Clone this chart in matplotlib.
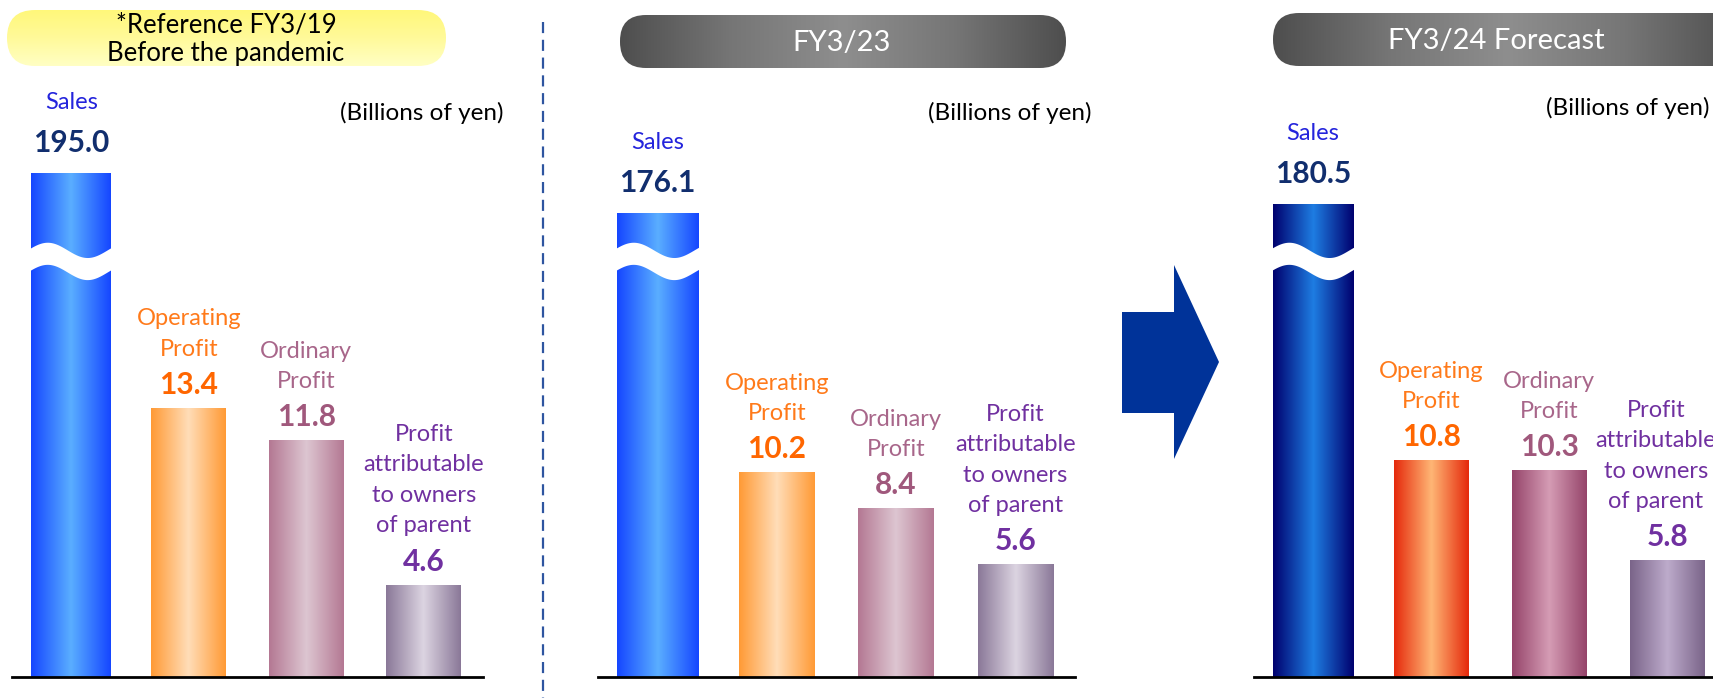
import numpy as np
import matplotlib
matplotlib.use("Agg")
import matplotlib.pyplot as plt
from matplotlib.colors import LinearSegmentedColormap
from matplotlib.patches import FancyBboxPatch, Polygon

plt.rcParams['font.family'] = ['Lato', 'DejaVu Sans']

# ---- data ----
items = ["Sales", "Operating\nProfit", "Ordinary\nProfit",
         "Profit\nattributable\nto owners\nof parent"]
fy19 = [195.0, 13.4, 11.8, 4.6]
fy23 = [176.1, 10.2, 8.4, 5.6]
fy24 = [180.5, 10.8, 10.3, 5.8]
panel_titles = ["*Reference FY3/19\nBefore the pandemic", "FY3/23", "FY3/24 Forecast"]
unit_label = "(Billions of yen)"

name_colors = ['#2424DC', '#FF7A1A', '#A8668A', '#7030A0']
value_colors = ['#112E6E', '#FF6600', '#A0587C', '#7030A0']

# (edge, centre) colour of each bar's horizontal shading
grads_actual = [('#1546FF', '#5AAEFF'), ('#FF9A35', '#FFDDB8'),
                ('#B47893', '#DDC6D1'), ('#8A7898', '#DCD4E1')]
grads_forecast = [('#00006E', '#1E7DE2'), ('#E5290B', '#FFB675'),
                  ('#95446A', '#D59CB4'), ('#7A6489', '#BDABCB')]

W, H, DPI = 1713, 698, 100
BASE_PX = 677        # pixel row of the baseline
PX_PER_UNIT = 20.1   # vertical scale of the profit bars


def shown(v):
    # sales is drawn on a squashed scale above the wave break
    return v if v < 50 else 22.45 + (v - 170) * 0.105


fig = plt.figure(figsize=(W / DPI, H / DPI), dpi=DPI)

# decoration layer in pixel coordinates
deco = fig.add_axes([0, 0, 1, 1])
deco.set_xlim(0, W)
deco.set_ylim(H, 0)
deco.axis('off')


def gradient_box(x, y, w, h, colors, vertical=False, rounding=26):
    box = FancyBboxPatch((x, y), w, h, boxstyle=f"round,pad=0,rounding_size={rounding}",
                         facecolor='none', edgecolor='none')
    deco.add_patch(box)
    cmap = LinearSegmentedColormap.from_list('', colors)
    g = np.linspace(0, 1, 256)
    g = g.reshape(-1, 1) if vertical else g.reshape(1, -1)
    im = deco.imshow(g, cmap=cmap, extent=[x, x + w, y + h, y], aspect='auto', zorder=1)
    im.set_clip_path(box)


gradient_box(7, 10, 439, 56, ['#FFF77A', '#FFFA9A', '#FFFFC4'], vertical=True, rounding=28)
deco.text(226, 39, panel_titles[0], ha='center', va='center', fontsize=18.5,
          linespacing=1.2, color='black', zorder=2)

gray = ['#4E4E4E', '#767676', '#8E8E8E', '#767676', '#4E4E4E']
gradient_box(620, 15, 446, 53, gray)
deco.text(842, 43, panel_titles[1], ha='center', va='center', fontsize=21, color='white', zorder=2)
gradient_box(1273, 13, 470, 53, gray)
deco.text(1496, 41, panel_titles[2], ha='center', va='center', fontsize=21, color='white', zorder=2)

for xr, yc in [(504, 113), (1091, 113), (1710, 108)]:
    deco.text(xr, yc, unit_label, ha='right', va='center', fontsize=17.5, color='black')

deco.plot([543, 543], [22, 698], color='#2E55A0', lw=1.6, dashes=(5, 3))
deco.add_patch(Polygon([(1122, 312), (1174, 312), (1174, 265), (1219, 362),
                        (1174, 459), (1174, 413), (1122, 413)],
                       closed=True, facecolor='#003399', edgecolor='none'))


def add_panel(left_px, unit_px, values, grads, last_shift=0):
    ax = fig.add_axes([left_px / W, (H - BASE_PX) / H, 4 * unit_px / W, BASE_PX / H])
    ax.set_facecolor('none')
    widths = [0.68, 0.635, 0.635, 0.635]
    heights = [shown(v) for v in values]
    bars = ax.bar(range(4), heights, width=widths, color='none', edgecolor='none')
    for rect, (edge, mid) in zip(bars, grads):
        cmap = LinearSegmentedColormap.from_list('', [edge, mid, edge])
        x0 = rect.get_x()
        im = ax.imshow(np.linspace(0, 1, 256).reshape(1, -1), cmap=cmap,
                       extent=[x0, x0 + rect.get_width(), 0, rect.get_height()],
                       aspect='auto', zorder=2)
        im.set_clip_path(rect)

    # wave break across the sales bar
    r = bars[0]
    xs = np.linspace(r.get_x() - 0.02, r.get_x() + r.get_width() + 0.02, 120)
    t = (xs - r.get_x()) / r.get_width()
    mid = 20.7 + 0.38 * np.sin(2 * np.pi * t + 0.1 * np.pi)
    ax.fill_between(xs, mid - 0.55, mid + 0.55, color='white', zorder=3, lw=0)

    for i, (name, v, h) in enumerate(zip(items, values, heights)):
        val_off = 30 if i == 0 else 23
        ax.annotate(f"{v:.1f}", xy=(i, h), xytext=(0, val_off * 0.72),
                    textcoords='offset points', ha='center', va='center',
                    fontsize=21.5, fontweight='bold', color=value_colors[i])
        n = name.count('\n') + 1
        gap = 40 if i == 0 else 35
        name_off = val_off + gap + (n - 1) * 15.5
        dx = last_shift if i == 3 else 0
        ax.annotate(name, xy=(i, h), xytext=(dx, name_off * 0.72),
                    textcoords='offset points', ha='center', va='center',
                    fontsize=17, color=name_colors[i], linespacing=1.55)

    ax.set_xlim(-0.5, 3.5)
    ax.set_ylim(0, BASE_PX / PX_PER_UNIT)
    for s in ['top', 'left', 'right']:
        ax.spines[s].set_visible(False)
    ax.spines['bottom'].set_linewidth(2)
    ax.spines['bottom'].set_color('black')
    ax.spines['bottom'].set_zorder(4)
    ax.set_xticks([])
    ax.set_yticks([])
    return ax


add_panel(12.5, 117.5, fy19, grads_actual)
add_panel(598, 119.25, fy23, grads_actual)
add_panel(1254, 118, fy24, grads_forecast, last_shift=-8)

fig.savefig("out.png", dpi=DPI)
